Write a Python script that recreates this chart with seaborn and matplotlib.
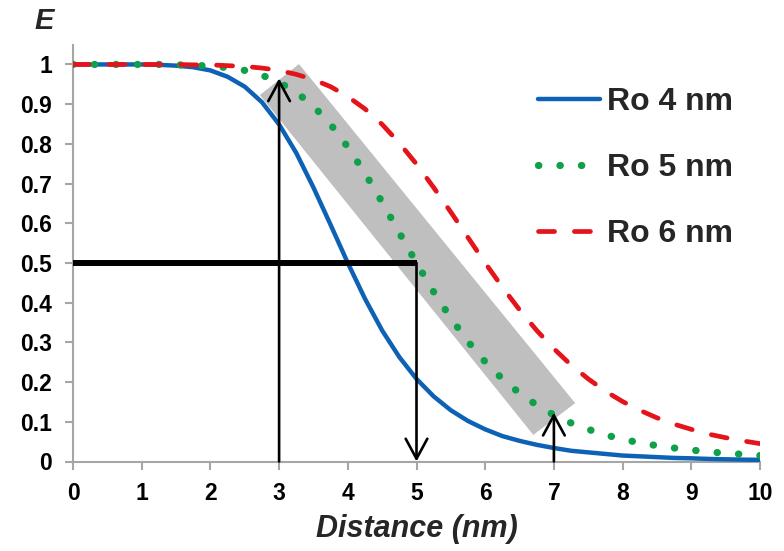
import matplotlib
matplotlib.use("Agg")
import matplotlib.pyplot as plt
import seaborn as sns
import pandas as pd
import numpy as np

# ---- data ----
distance = [0.0, 0.25, 0.5, 0.75, 1.0, 1.25, 1.5, 1.75, 2.0, 2.25, 2.5, 2.75, 3.0, 3.25, 3.5, 3.75,
            4.0, 4.25, 4.5, 4.75, 5.0, 5.25, 5.5, 5.75, 6.0, 6.25, 6.5, 6.75, 7.0, 7.25, 7.5, 7.75,
            8.0, 8.25, 8.5, 8.75, 9.0, 9.25, 9.5, 9.75, 10.0]
ro4 = [1.0, 1.0, 1.0, 1.0, 1.0, 0.999, 0.997, 0.993, 0.985, 0.969, 0.944, 0.905, 0.849, 0.777, 0.690, 0.596,
       0.500, 0.410, 0.330, 0.263, 0.208, 0.164, 0.129, 0.102, 0.081, 0.064, 0.052, 0.042, 0.034, 0.027, 0.023, 0.019,
       0.015, 0.013, 0.011, 0.009, 0.008, 0.0065, 0.0055, 0.0047, 0.0041]
ro5 = [1.0, 1.0, 1.0, 1.0, 1.0, 1.0, 0.999, 0.998, 0.996, 0.992, 0.985, 0.973, 0.955, 0.930, 0.895, 0.849,
       0.792, 0.726, 0.653, 0.576, 0.500, 0.427, 0.361, 0.302, 0.251, 0.208, 0.172, 0.142, 0.117, 0.097, 0.081, 0.067,
       0.056, 0.047, 0.040, 0.034, 0.029, 0.024, 0.021, 0.018, 0.015]
ro6 = [1.0, 1.0, 1.0, 1.0, 1.0, 1.0, 1.0, 0.999, 0.999, 0.997, 0.995, 0.991, 0.985, 0.975, 0.962, 0.944,
       0.919, 0.888, 0.849, 0.802, 0.749, 0.690, 0.628, 0.564, 0.500, 0.439, 0.382, 0.330, 0.284, 0.243, 0.208, 0.177,
       0.151, 0.129, 0.110, 0.094, 0.081, 0.069, 0.060, 0.052, 0.045]
series_labels = ["Ro 4 nm", "Ro 5 nm", "Ro 6 nm"]
x_ticks = list(range(0, 11))
y_ticks = [0, 0.1, 0.2, 0.3, 0.4, 0.5, 0.6, 0.7, 0.8, 0.9, 1.0]
y_ticklabels = ["0", "0.1", "0.2", "0.3", "0.4", "0.5", "0.6", "0.7", "0.8", "0.9", "1"]

# annotation geometry (data coordinates)
band_x = [3.29, 2.72, 6.70, 7.31]
band_y = [1.001, 0.923, 0.067, 0.147]
arrow_up_x = [3, 7]
arrow_up_tip = [0.965, 0.123]
half_line_y = 0.5
half_line_x = 5

df = pd.DataFrame({
    "Distance": distance * 3,
    "E": ro4 + ro5 + ro6,
    "Series": [series_labels[0]] * len(distance) + [series_labels[1]] * len(distance) + [series_labels[2]] * len(distance),
})

sns.set_theme(style="white")
plt.rcParams["font.family"] = ["Liberation Sans", "DejaVu Sans"]
plt.rcParams["lines.scale_dashes"] = True

fig = plt.figure(figsize=(7.84, 5.51), dpi=100)
ax = fig.add_axes([73 / 784, 1 - 461.5 / 551, 687 / 784, (461.5 - 45) / 551])

# grey band
ax.fill(band_x, band_y, color="#BFBFBF", lw=0, zorder=1)

colors = ["#0E62B5", "#0FA04A", "#E5141B"]
widths = [3.2, 5.2, 3.4]
patterns = ["-", (0, (0.05, 2.92)), (0, (3.4, 4.2))]
for lab, c, w, p in zip(series_labels, colors, widths, patterns):
    sub = df[df["Series"] == lab]
    sns.lineplot(data=sub, x="Distance", y="E", ax=ax, color=c, label=lab, zorder=3)
    ln = ax.lines[-1]
    ln.set_linewidth(w)
    ln.set_linestyle(p)
    ln.set_dash_capstyle("round")
    ln.set_solid_capstyle("round")

# horizontal bar at E = 0.5
ax.plot([0, half_line_x], [half_line_y, half_line_y], color="black", lw=4.3, solid_capstyle="butt", zorder=4)
# arrows
ap = dict(arrowstyle="->,head_length=1.2,head_width=0.65", color="black", lw=1.9, shrinkA=0, shrinkB=0)
for xa, ya in zip(arrow_up_x, arrow_up_tip):
    ax.annotate("", xy=(xa, ya), xytext=(xa, 0), arrowprops=ap, zorder=5)
ax.annotate("", xy=(half_line_x, 0), xytext=(half_line_x, half_line_y), arrowprops=ap, zorder=5)

ax.set_xlim(0, 10)
ax.set_ylim(0, 1.049)
ax.set_xticks(x_ticks)
ax.set_yticks(y_ticks)
ax.set_yticklabels(y_ticklabels)
for lbl in ax.get_xticklabels() + ax.get_yticklabels():
    lbl.set_fontweight("bold")
ax.tick_params(axis="both", which="major", direction="out", length=6, width=1.5,
               color="#A6A6A6", labelsize=16.5, pad=9, labelcolor="black")
ax.tick_params(left=True, bottom=True)
for s in ["top", "right"]:
    ax.spines[s].set_visible(False)
for s in ["left", "bottom"]:
    ax.spines[s].set_color("#A6A6A6")
    ax.spines[s].set_linewidth(1.5)

ax.set_xlabel("Distance (nm)", fontsize=22, fontweight="bold", fontstyle="italic", labelpad=6)
ax.set_ylabel("")
fig.text(44 / 784, 1 - 21 / 551, "E", fontsize=21, fontweight="bold", fontstyle="italic",
         ha="center", va="center")

leg = ax.legend(loc="upper left", bbox_to_anchor=(538 / 784, 1 - 87 / 551), bbox_transform=fig.transFigure,
                frameon=False, fontsize=23, handlelength=1.94, handletextpad=0.22, labelspacing=1.13,
                borderpad=0, borderaxespad=0)
for t in leg.get_texts():
    t.set_fontweight("bold")

fig.savefig("out.png", dpi=100)
